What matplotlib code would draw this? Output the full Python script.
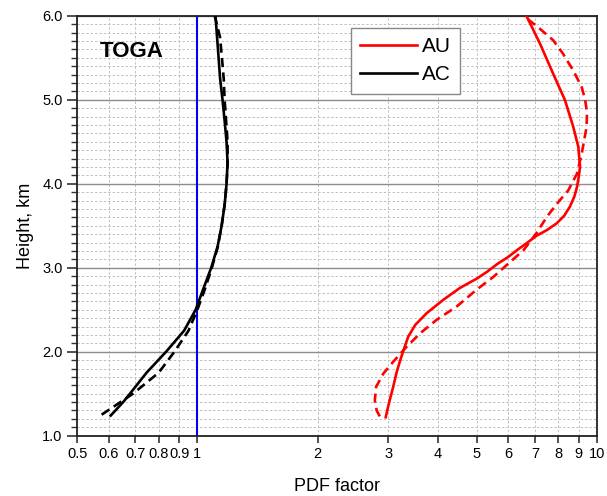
import matplotlib
matplotlib.use("Agg")
import matplotlib.pyplot as plt
from matplotlib.ticker import FixedLocator, MultipleLocator, NullLocator, FormatStrFormatter

plt.rcParams["font.family"] = ["Liberation Sans", "DejaVu Sans"]

# AC (black), solid and dashed
ac_sol_h = [1.24, 1.4, 1.5, 1.75, 2.0, 2.25, 2.5, 2.75, 3.0, 3.25, 3.5, 3.75, 4.0, 4.25, 4.5, 4.75, 5.0, 5.25, 5.5, 5.75, 6.0]
ac_sol_x = [0.607, 0.652, 0.678, 0.746, 0.835, 0.926, 0.99, 1.035, 1.083, 1.123, 1.150, 1.17, 1.183, 1.19, 1.183, 1.17, 1.156, 1.14, 1.13, 1.12, 1.11]
ac_dash_h = [1.25, 1.5, 1.75, 2.0, 2.25, 2.5, 2.75, 3.0, 3.25, 3.5, 3.75, 4.0, 4.25, 4.5, 4.75, 5.0, 5.25, 5.5, 5.75, 6.0]
ac_dash_x = [0.576, 0.69, 0.80, 0.876, 0.95, 1.0, 1.045, 1.087, 1.125, 1.150, 1.17, 1.183, 1.19, 1.19, 1.18, 1.17, 1.164, 1.152, 1.139, 1.105]

# AU (red), solid and dashed
au_sol_h = [1.22, 1.40, 1.58, 1.75, 1.86, 2.0, 2.18, 2.32, 2.46, 2.62, 2.76, 2.87, 2.95, 3.05, 3.13, 3.22, 3.30, 3.38,
            3.45, 3.53, 3.62, 3.73, 3.85, 3.96, 4.08, 4.20, 4.44, 4.68, 5.0, 5.31, 5.67, 6.0]
au_sol_x = [2.96, 3.02, 3.09, 3.15, 3.20, 3.27, 3.37, 3.51, 3.75, 4.13, 4.54, 5.0, 5.3, 5.65, 6.0, 6.35, 6.7, 7.05,
            7.5, 7.93, 8.28, 8.56, 8.78, 8.91, 9.0, 9.07, 8.98, 8.72, 8.31, 7.77, 7.2, 6.66]
au_dash_h = [1.23, 1.30, 1.42, 1.58, 1.74, 1.88, 2.04, 2.22, 2.38, 2.54, 2.74, 2.89, 3.05, 3.21, 3.41, 3.61, 3.76,
             3.92, 4.12, 4.36, 4.68, 4.85, 5.0, 5.15, 5.35, 5.55, 5.71, 5.87, 6.0]
au_dash_x = [2.86, 2.81, 2.78, 2.80, 2.92, 3.09, 3.31, 3.61, 3.97, 4.46, 5.0, 5.5, 6.0, 6.55, 7.05, 7.5, 7.93,
             8.47, 8.91, 9.16, 9.42, 9.44, 9.34, 9.16, 8.72, 8.22, 7.77, 7.1, 6.55]

xticks = [0.5, 0.6, 0.7, 0.8, 0.9, 1, 2, 3, 4, 5, 6, 7, 8, 9, 10]
xtick_labels = ["0.5", "0.6", "0.7", "0.8", "0.9", "1", "2", "3", "4", "5", "6", "7", "8", "9", "10"]

fig = plt.figure(figsize=(6.07, 4.96), dpi=100)
ax = fig.add_axes([0.127, 0.1216, 0.8565, 0.8464])

ax.set_xscale("log")
ax.set_xlim(0.5, 10)
ax.set_ylim(1.0, 6.0)
ax.xaxis.set_major_locator(FixedLocator(xticks))
ax.xaxis.set_minor_locator(NullLocator())
ax.set_xticklabels(xtick_labels)
ax.yaxis.set_major_locator(MultipleLocator(1.0))
ax.yaxis.set_minor_locator(MultipleLocator(0.1))
ax.yaxis.set_major_formatter(FormatStrFormatter("%.1f"))

ax.grid(axis="y", which="major", color="#8c8c8c", lw=1.0, ls="-")
ax.grid(axis="y", which="minor", color="#c0c0c0", lw=0.7, ls=(0, (2.5, 2)))
ax.grid(axis="x", which="major", color="#c0c0c0", lw=0.7, ls=(0, (2.5, 2)))
ax.set_axisbelow(True)

ax.tick_params(axis="both", which="major", direction="out", labelsize=10.5, width=1.2, color="#333333")
ax.tick_params(axis="y", which="major", length=7)
ax.tick_params(axis="y", which="minor", direction="out", length=4, width=1.0, color="#333333")
ax.tick_params(axis="x", which="major", length=5)
for s in ax.spines.values():
    s.set_linewidth(1.3)
    s.set_color("#222222")

ax.axvline(1.0, color="blue", lw=1.5, zorder=2)

lw = 1.9
ax.plot(au_sol_x, au_sol_h, color="red", lw=lw, label="AU", zorder=3)
ax.plot(au_dash_x, au_dash_h, color="red", lw=lw, dashes=(3.5, 2), zorder=3)
ax.plot(ac_sol_x, ac_sol_h, color="black", lw=lw, label="AC", zorder=3)
ax.plot(ac_dash_x, ac_dash_h, color="black", lw=lw, dashes=(3.5, 2), zorder=3)

ax.text(0.044, 0.914, "TOGA", transform=ax.transAxes, fontsize=16, fontweight="bold",
        ha="left", va="center")

leg = ax.legend(loc="upper left", bbox_to_anchor=(0.527, 0.972), fontsize=15, frameon=True,
                fancybox=False, edgecolor="#888888", framealpha=1.0, handlelength=2.7,
                handletextpad=0.25, borderpad=0.45, labelspacing=0.45, borderaxespad=0)
leg.get_frame().set_linewidth(1.0)

ax.set_xlabel("PDF factor", fontsize=13, labelpad=12)
ax.set_ylabel("Height, km", fontsize=13, labelpad=6)

fig.savefig("out.png", dpi=100)
